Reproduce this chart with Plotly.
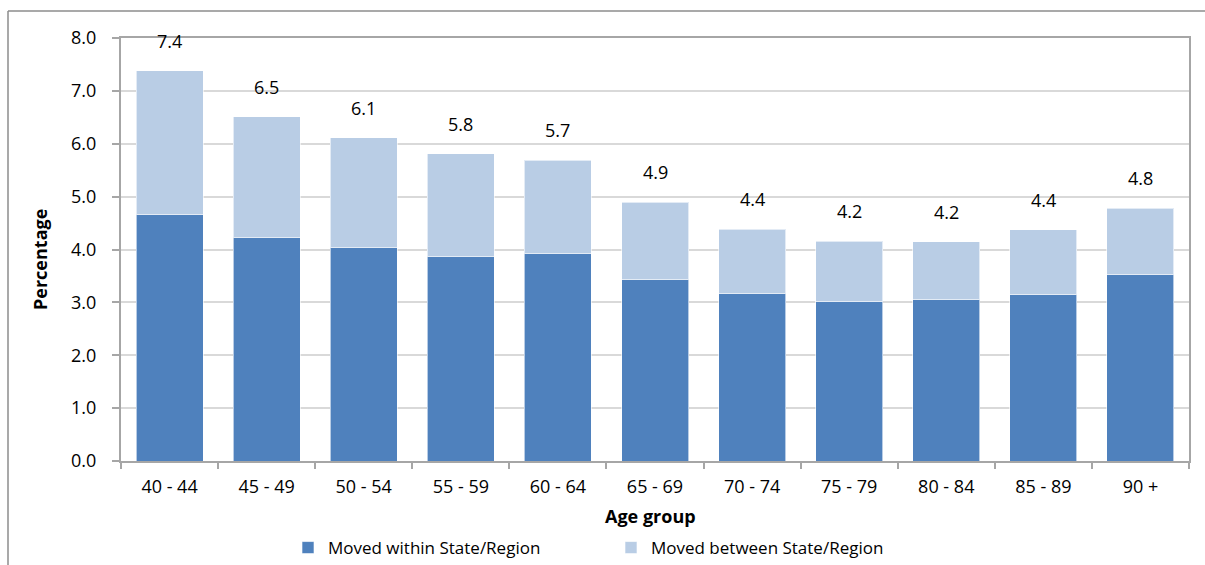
import plotly.graph_objects as go

age_groups = ["40 - 44", "45 - 49", "50 - 54", "55 - 59", "60 - 64", "65 - 69",
              "70 - 74", "75 - 79", "80 - 84", "85 - 89", "90 +"]
moved_within = [4.67, 4.22, 4.03, 3.86, 3.93, 3.44, 3.16, 3.01, 3.06, 3.14, 3.52]
moved_between = [2.71, 2.29, 2.08, 1.95, 1.76, 1.45, 1.22, 1.15, 1.09, 1.23, 1.26]
y_ticks = [0, 1, 2, 3, 4, 5, 6, 7, 8]

totals = [w + b for w, b in zip(moved_within, moved_between)]

FONT = "Open Sans"
FS = 18
FS_LEGEND = 17
DARK = "#4F81BD"
LIGHT = "#B9CDE5"
AXIS = "#A6A6A6"
GRID = "#D9D9D9"

fig = go.Figure()
fig.add_bar(x=age_groups, y=moved_within, name="Moved within State/Region",
            marker=dict(color=DARK, line=dict(color="rgba(255,255,255,0.6)", width=1)))
fig.add_bar(x=age_groups, y=moved_between, name="Moved between State/Region",
            marker=dict(color=LIGHT, line=dict(color="rgba(255,255,255,0.6)", width=1)))

# total labels above each stacked bar
for cat, tot in zip(age_groups, totals):
    fig.add_annotation(x=cat, y=tot, text=f"{tot:.1f}", showarrow=False,
                       yshift=30, yanchor="middle",
                       font=dict(family=FONT, size=FS, color="#000000"))

# outer chart frame
L, R, T, B = 121, 1189, 38, 461
W, H = R - L, B - T
def px(x):
    return (x - L) / W
def py(y):
    return (B - y) / H
fig.add_shape(type="line", xref="paper", yref="paper",
              x0=px(8), x1=px(1210), y0=py(11), y1=py(11),
              line=dict(color="#8C8C8C", width=1.5))
fig.add_shape(type="line", xref="paper", yref="paper",
              x0=px(8), x1=px(8), y0=py(11), y1=py(570),
              line=dict(color="#8C8C8C", width=1.5))

# axis titles
fig.add_annotation(xref="paper", yref="paper", x=px(650), y=py(516),
                   text="<b>Age group</b>", showarrow=False,
                   xanchor="center", yanchor="middle",
                   font=dict(family=FONT, size=FS, color="#000000"))
fig.add_annotation(xref="paper", yref="paper", x=px(40), y=py(260),
                   text="<b>Percentage</b>", showarrow=False, textangle=-90,
                   xanchor="center", yanchor="middle",
                   font=dict(family=FONT, size=FS, color="#000000"))

fig.update_layout(
    barmode="stack",
    bargap=0.31,
    width=1205, height=565,
    margin=dict(l=L, r=1205 - R, t=T, b=565 - B, autoexpand=False),
    plot_bgcolor="white", paper_bgcolor="white",
    font=dict(family=FONT, size=FS, color="#000000"),
    showlegend=True,
    legend=dict(orientation="h", x=px(288), xanchor="left", y=py(548), yanchor="middle",
                font=dict(family=FONT, size=FS_LEGEND), itemwidth=30,
                traceorder="normal", entrywidth=278, entrywidthmode="pixels"),
    xaxis=dict(
        showline=True, linecolor=AXIS, linewidth=2, mirror=True,
        ticks="outside", tickson="boundaries", ticklen=6, tickcolor=AXIS, tickwidth=1.5,
        tickfont=dict(family=FONT, size=FS), ticklabelstandoff=8,
    ),
    yaxis=dict(
        range=[0, 8], tickvals=y_ticks, tickformat=".1f",
        showline=True, linecolor=AXIS, linewidth=2, mirror=True,
        ticks="outside", ticklen=7, tickcolor=AXIS, tickwidth=1.5,
        showgrid=True, gridcolor=GRID, gridwidth=1.5,
        tickfont=dict(family=FONT, size=FS), ticklabelstandoff=12,
        zeroline=False,
    ),
)

fig.write_html("out.html")
